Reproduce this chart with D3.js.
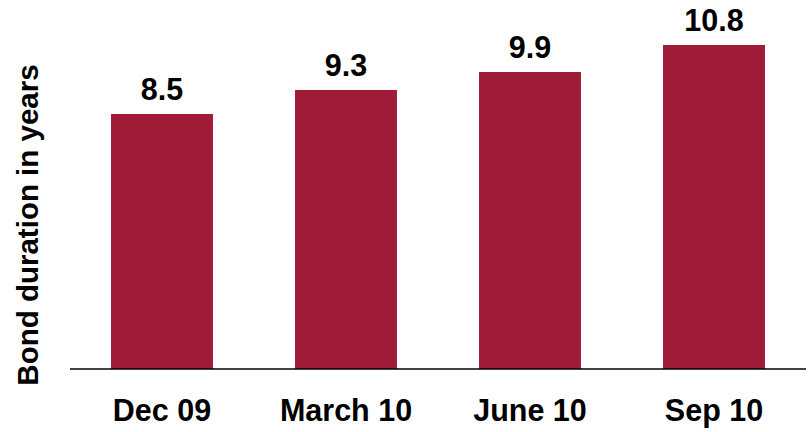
<!DOCTYPE html>
<html><head><meta charset="utf-8">
<script src="https://cdn.jsdelivr.net/npm/d3@7/dist/d3.min.js"></script>
<style>body{margin:0;background:#fff}svg{display:block}text{font-family:"Liberation Sans",Arial,sans-serif;font-weight:bold}</style>
</head><body>
<svg id="c" width="808" height="432"></svg>
<script>
const categories = ["Dec 09", "March 10", "June 10", "Sep 10"];
const values = [8.5, 9.3, 9.9, 10.8];
const yTitle = "Bond duration in years";

const svg = d3.select("#c");
const baseY = 369;
const x = d3.scaleBand().domain(categories).range([70, 806]).paddingInner(0.446).paddingOuter(0.223);
const y = d3.scaleLinear().domain([0, 12]).range([baseY, baseY - 360]);

svg.selectAll("rect.bar").data(values).enter().append("rect")
  .attr("class", "bar")
  .attr("x", (d, i) => x(categories[i]))
  .attr("width", x.bandwidth())
  .attr("y", d => y(d))
  .attr("height", d => baseY - y(d))
  .attr("fill", "#9e1c38");

svg.selectAll("text.val").data(values).enter().append("text")
  .attr("class", "val")
  .attr("x", (d, i) => x(categories[i]) + x.bandwidth() / 2)
  .attr("y", d => y(d) - 14)
  .attr("text-anchor", "middle")
  .attr("font-size", 30.5)
  .attr("fill", "#000")
  .text(d => d.toFixed(1));

const ax = svg.append("g").attr("transform", `translate(0,${baseY})`)
  .call(d3.axisBottom(x).tickSize(0).tickPadding(0));
ax.select(".domain").attr("stroke", "#000").attr("stroke-width", 1.5).attr("d", "M70,0H806");
ax.selectAll(".tick text").attr("font-size", 30.5).attr("fill", "#000")
  .attr("dy", 0).attr("y", 52)
  .style("font-family", '"Liberation Sans",Arial,sans-serif').style("font-weight", "bold");

svg.append("text")
  .attr("transform", "translate(38,225) rotate(-90)")
  .attr("text-anchor", "middle")
  .attr("font-size", 29.5)
  .attr("fill", "#000")
  .text(yTitle);
</script>
</body></html>
